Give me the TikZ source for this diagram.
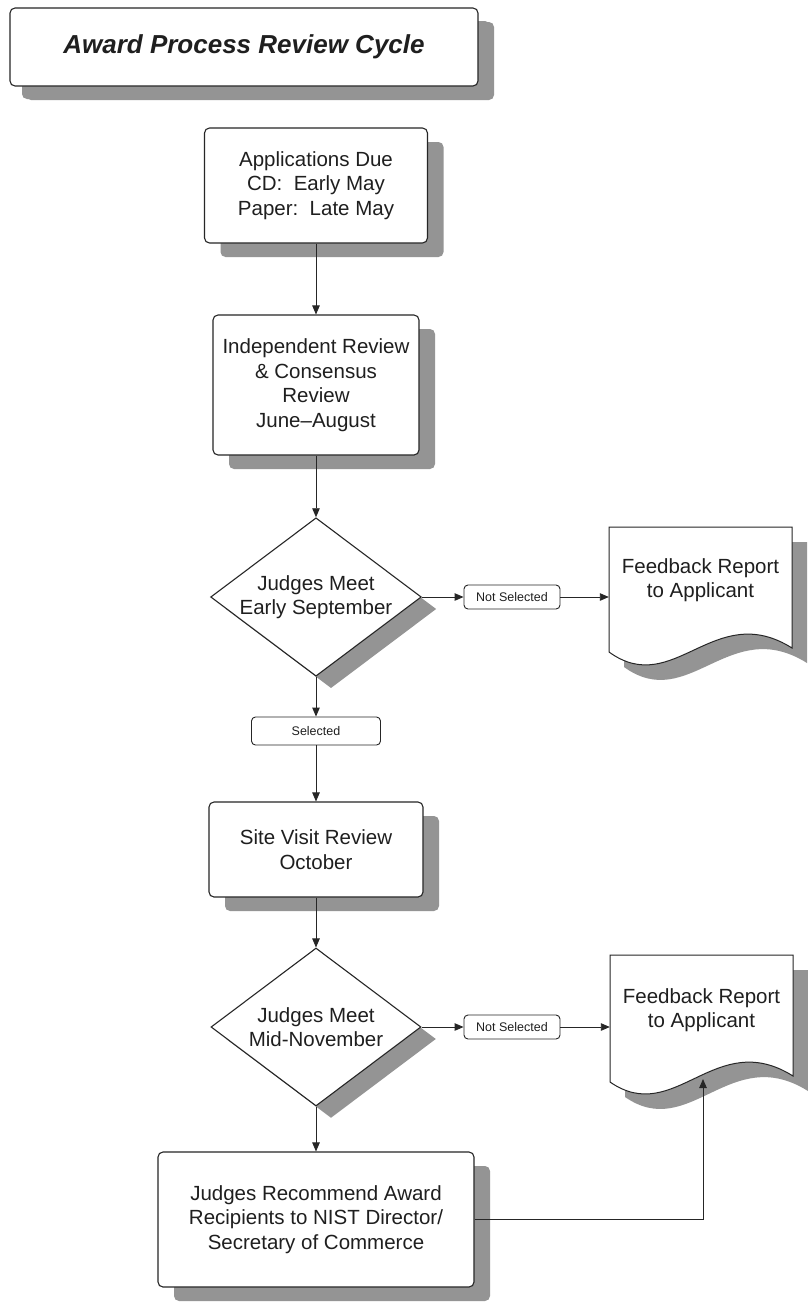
\documentclass[tikz,border=0pt]{standalone}
\usepackage{fontspec}
\setmainfont{Liberation Sans}
\usetikzlibrary{shapes.geometric,shadows,arrows.meta}
\begin{document}
\begin{tikzpicture}[x=1pt,y=-1pt,
  every node/.style={font=\fontsize{20.5}{24.5}\selectfont, text=black!88, align=center, inner sep=0pt},
  shadecol/.style={fill=black!42},
  box/.style={draw=black!85, line width=1.1pt, rounded corners=5pt, fill=white,
    drop shadow={shadow xshift=16pt, shadow yshift=-14pt, fill=black!42, opacity=1}},
  dia/.style={diamond, draw=black!85, line width=1.1pt, fill=white, aspect=1.33,
    minimum width=210pt, minimum height=158pt,
    drop shadow={shadow xshift=15pt, shadow yshift=-12pt, fill=black!42, opacity=1}},
  tag/.style={draw=black!85, line width=0.9pt, rounded corners=4pt, fill=white,
    font=\fontsize{12.5}{15}\selectfont},
  doctext/.style={minimum width=183pt, minimum height=60pt},
  docshape/.style={draw=black!85, line width=1pt, fill=white},
  flow/.style={draw=black!85, line width=0.9pt, -{Triangle[length=9pt,width=7.5pt]}}
]
\useasboundingbox (0,0) rectangle (808,1304);
\clip (0,0) rectangle (808,1304);
\fill[white] (0,0) rectangle (808,1304);

% title
\node[box, minimum width=468pt, minimum height=78pt,
  drop shadow={shadow xshift=12pt, shadow yshift=-13pt, fill=black!42, opacity=1},
  font=\fontsize{26}{30}\selectfont\bfseries\itshape] (title) at (244,47) {Award Process Review Cycle};

% main column
\node[box, minimum width=223pt, minimum height=115pt] (box1) at (316,185.5)
  {Applications Due\\CD:\ \ Early May\\Paper:\ \ Late May};
\node[box, minimum width=206pt, minimum height=140pt] (box2) at (316,385)
  {Independent Review\\\&\ Consensus\\Review\\June--August};
\node[dia] (dia1) at (316,597) {Judges Meet\\Early September};
\node[tag, minimum width=129pt, minimum height=28pt] (sel) at (316,731) {Selected};
\node[box, minimum width=214pt, minimum height=95pt] (box3) at (316,849.5)
  {Site Visit Review\\October};
\node[dia] (dia2) at (316,1027) {Judges Meet\\Mid-November};
\node[box, minimum width=316pt, minimum height=135pt] (box4) at (316,1219.5)
  {Judges Recommend Award\\Recipients to NIST Director/\\Secretary of Commerce};

% not selected tags
\node[tag, minimum width=96pt, minimum height=24pt] (ns1) at (512,597) {Not Selected};
\node[tag, minimum width=96pt, minimum height=24pt] (ns2) at (512,1027) {Not Selected};

% feedback documents
\begin{scope}[shift={(624,542)}]
  \fill[shadecol] (0,0) -- (183,0) -- (183,121) .. controls (105,72) and (65,172) .. (0,125) -- cycle;
\end{scope}
\begin{scope}[shift={(609,527)}]
  \path[docshape] (0,0) -- (183,0) -- (183,121) .. controls (105,72) and (65,172) .. (0,125) -- cycle;
\end{scope}
\node[doctext] (doc1) at (700.5,580) {Feedback Report\\to Applicant};

\begin{scope}[shift={(625,970)}]
  \fill[shadecol] (0,0) -- (183,0) -- (183,121) .. controls (105,72) and (65,172) .. (0,127) -- cycle;
\end{scope}
\begin{scope}[shift={(610,955)}]
  \path[docshape] (0,0) -- (183,0) -- (183,121) .. controls (105,72) and (65,172) .. (0,127) -- cycle;
\end{scope}
\node[doctext] (doc2) at (701.5,1010) {Feedback Report\\to Applicant};
\coordinate (d2tip) at (703,1079);

% connectors
\draw[flow] (box1.south) -- (box2.north);
\draw[flow] (box2.south) -- (dia1.north);
\draw[flow] (dia1.east) -- (ns1.west);
\draw[flow] (ns1.east) -- (ns1.east -| doc1.west);
\draw[flow] (dia1.south) -- (sel.north);
\draw[flow] (sel.south) -- (box3.north);
\draw[flow] (box3.south) -- (dia2.north);
\draw[flow] (dia2.east) -- (ns2.west);
\draw[flow] (ns2.east) -- (ns2.east -| doc2.west);
\draw[flow] (dia2.south) -- (box4.north);
\draw[flow] (box4.east) -| (d2tip);
\end{tikzpicture}
\end{document}
